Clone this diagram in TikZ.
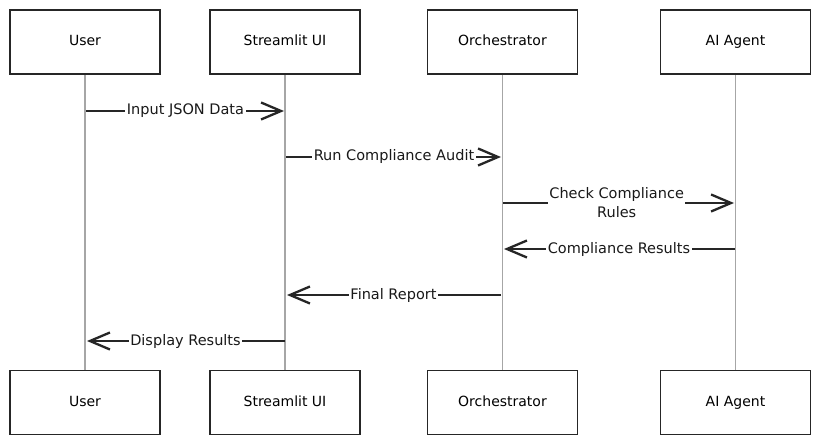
\documentclass[tikz,border=0pt]{standalone}
\usepackage{fontspec}
\setmainfont{DejaVu Sans}
\usetikzlibrary{arrows.meta}
\begin{document}
\begin{tikzpicture}[x=1pt,y=-1pt,
  actor/.style={draw=black!85, line width=1.6pt, fill=white, minimum width=150pt, minimum height=64pt, inner sep=0pt, text height=10.5pt, text depth=3pt, font=\fontsize{14}{16}\selectfont},
  life/.style={draw=black!35, line width=1.2pt},
  msg/.style={draw=black!85, line width=2.8pt, -{Straight Barb[length=20pt,width=17pt,line width=2.3pt]}, shorten >=1pt},
  lbl/.style={fill=white, inner sep=1.5pt, font=\fontsize{14.5}{19}\selectfont, align=center, text=black!90}]
\useasboundingbox (0,0) rectangle (821,446);
\fill[white] (0,0) rectangle (821,446);
% top actors
\node[actor] (ut) at (85,42) {User};
\node[actor] (st) at (285,42) {Streamlit UI};
\node[actor] (ot) at (502.5,42) {Orchestrator};
\node[actor] (at) at (735.5,42) {AI Agent};
% bottom actors
\node[actor] (ub) at (85,402.5) {User};
\node[actor] (sb) at (285,402.5) {Streamlit UI};
\node[actor] (ob) at (502.5,402.5) {Orchestrator};
\node[actor] (ab) at (735.5,402.5) {AI Agent};
% lifelines
\draw[life] (ut) -- (ub);
\draw[life] (st) -- (sb);
\draw[life] (ot) -- (ob);
\draw[life] (at) -- (ab);
% message coordinates
\coordinate (u1) at (86,111); \coordinate (s1) at (285,111);
\coordinate (s2) at (286,157); \coordinate (o2) at (502,157);
\coordinate (o3) at (503,203); \coordinate (a3) at (735,203);
\coordinate (a4) at (735,249); \coordinate (o4) at (503,249);
\coordinate (o5) at (501,295); \coordinate (s5) at (286,295);
\coordinate (s6) at (285,341); \coordinate (u6) at (86,341);
% messages
\draw[msg] (u1) -- node[lbl] {Input JSON Data} (s1);
\draw[msg] (s2) -- node[lbl] {Run Compliance Audit} (o2);
\draw[msg] (o3) -- node[lbl, pos=0.49] {Check Compliance\\Rules} (a3);
\draw[msg] (a4) -- node[lbl] {Compliance Results} (o4);
\draw[msg] (o5) -- node[lbl] {Final Report} (s5);
\draw[msg] (s6) -- node[lbl] {Display Results} (u6);
\end{tikzpicture}
\end{document}
